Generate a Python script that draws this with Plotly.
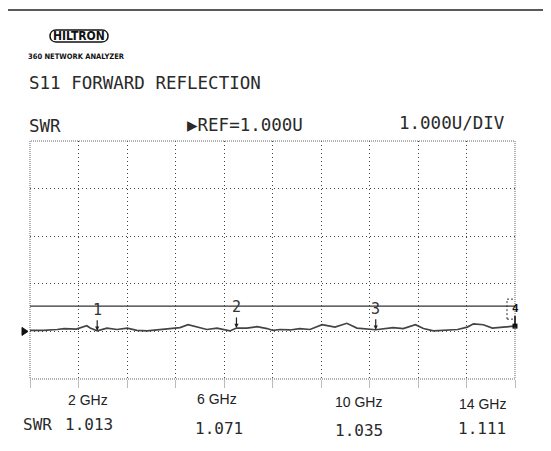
import plotly.graph_objects as go

# ---------------- data ----------------
freq_ghz = [0.07, 0.45, 0.85, 1.05, 1.40, 1.70, 1.80, 2.00, 2.28, 2.57, 2.86, 3.14,
            3.43, 3.80, 4.09, 4.38, 4.61, 4.87, 5.15, 5.44, 5.81, 6.00, 6.30, 6.59,
            6.88, 7.05, 7.25, 7.54, 7.82, 8.11, 8.46, 8.83, 9.17, 9.46, 9.83, 10.00,
            10.50, 10.79, 11.14, 11.37, 11.66, 12.06, 12.35, 12.63, 12.81, 13.09,
            13.35, 13.66, 14.00]
swr = [1.02, 1.02, 1.04, 1.06, 1.05, 1.12, 1.07, 1.013, 1.07, 1.04, 1.07, 1.02,
       1.01, 1.04, 1.07, 1.08, 1.14, 1.09, 1.04, 1.07, 1.01, 1.071, 1.07, 1.10,
       1.06, 1.02, 1.04, 1.03, 1.06, 1.04, 1.14, 1.09, 1.17, 1.07, 1.04, 1.035,
       1.08, 1.06, 1.14, 1.06, 1.01, 1.03, 1.04, 1.09, 1.16, 1.14,
       1.07, 1.09, 1.111]

marker_ids = ["1", "2", "3", "4"]
marker_freq = [2, 6, 10, 14]
marker_swr = [1.013, 1.071, 1.035, 1.111]
freq_labels = ["2 GHz", "6 GHz", "10 GHz", "14 GHz"]
value_labels = ["1.013", "1.071", "1.035", "1.111"]
limit_swr = 1.53
ref_value = 1.0
x_range = [0.07, 14.0]
y_range = [0, 5]

# ---------------- layout helpers ----------------
OFF = 8                      # default page body margin
W, H = 551 - OFF, 451 - OFF  # figure size inside the page
L, R, T, B = 30 - OFF, 515 - OFF, 141 - OFF, 379 - OFF


def px(X, Y):
    """page pixel -> paper coordinates"""
    X -= OFF
    Y -= OFF
    return (X - L) / (R - L), (B - Y) / (B - T)


MONO = "DejaVu Sans Mono"
INK = "#2a2a2a"

fig = go.Figure()

fig.add_trace(go.Scatter(x=x_range, y=[limit_swr, limit_swr], mode="lines",
                         line=dict(color="#333", width=1.3), hoverinfo="skip"))
fig.add_trace(go.Scatter(x=freq_ghz, y=swr, mode="lines",
                         line=dict(color="#444", width=1.7), hoverinfo="skip"))
fig.add_trace(go.Scatter(x=[marker_freq[-1]], y=[marker_swr[-1]], mode="markers",
                         marker=dict(symbol="square", size=5, color="#111"),
                         cliponaxis=False, hoverinfo="skip"))

annotations = []
shapes = []

# markers 1-3 with down arrows
for mid, f, v in zip(marker_ids[:3], marker_freq[:3], marker_swr[:3]):
    annotations.append(dict(x=f, y=v, xref="x", yref="y", text=mid, showarrow=True,
                            ax=0, ay=-21, arrowhead=2, arrowsize=0.7, arrowwidth=1.2,
                            arrowcolor="#222", standoff=0,
                            font=dict(family=MONO, size=15, color="#333")))
# active marker 4
annotations.append(dict(x=marker_freq[3], y=marker_swr[3], xref="x", yref="y",
                        text="<b>" + marker_ids[3] + "</b>", showarrow=True, ax=0, ay=-18,
                        arrowhead=0, arrowwidth=1.6, arrowcolor="#111", standoff=0,
                        font=dict(family=MONO, size=11, color="#111")))
shapes.append(dict(type="rect", xref="x", yref="y", xsizemode="pixel", ysizemode="pixel",
                   xanchor=marker_freq[3], yanchor=marker_swr[3],
                   x0=-8, x1=7, y0=7, y1=27,
                   line=dict(color="#333", width=1, dash="2px,2px")))

# reference triangle at REF level
xa, _ = px(22, 0)
xb, _ = px(28, 0)
d = 4 / 47.6
shapes.append(dict(type="path", xref="paper", yref="y",
                   path=f"M {xa},{ref_value + d} L {xb},{ref_value} L {xa},{ref_value - d} Z",
                   fillcolor="#111", line=dict(color="#111", width=1)))

# plot border (dense dotted)
shapes.append(dict(type="rect", xref="paper", yref="paper", x0=0, x1=1, y0=0, y1=1,
                   line=dict(color="#666", width=1, dash="1px,1px")))

# outer frame lines
x7, y10 = px(7, 10)
x551, y451 = px(551, 451)
shapes.append(dict(type="line", xref="paper", yref="paper", x0=x7, x1=x551, y0=y10, y1=y10,
                   line=dict(color="#222", width=1.5)))
shapes.append(dict(type="line", xref="paper", yref="paper", x0=x7, x1=x7, y0=y10, y1=y451,
                   line=dict(color="#222", width=1.5)))


# HILTRON pill
def P(X, Y):
    a, b = px(X, Y)
    return f"{a},{b}"


pill = (f"M {P(56,30)} L {P(102,30)} C {P(110,30)} {P(110,42)} {P(102,42)} "
        f"L {P(56,42)} C {P(48,42)} {P(48,30)} {P(56,30)} Z")
shapes.append(dict(type="path", xref="paper", yref="paper", path=pill,
                   line=dict(color="#111", width=1.5)))


def text(X, Y, s, size, family=MONO, anchor="left", color=INK):
    a, b = px(X, Y)
    annotations.append(dict(x=a, y=b, xref="paper", yref="paper", text=s, showarrow=False,
                            xanchor=anchor, yanchor="middle", borderpad=0,
                            font=dict(family=family, size=size, color=color)))


NARROW = "Liberation Sans Narrow, DejaVu Sans Condensed"
text(79, 36, "<b>HILTRON</b>", 12, family=NARROW, anchor="center", color="#111")
text(27, 57, "<b>360 NETWORK ANALYZER</b>", 7.5, family="DejaVu Sans Condensed", color="#111")
text(28, 83, "S11 FORWARD REFLECTION", 17.5)
text(28, 126, "SWR", 17.5)
text(186, 125, "▶REF=1.000U", 17.5)
text(398, 123, "1.000U/DIV", 17.5)

# bottom frequency labels and values
label_pos = [(88, 399.5), (217, 398.5), (358, 402), (482, 403.5)]
value_pos = [(89, 424), (219, 428), (359, 430), (482, 428)]
for s, (X, Y) in zip(freq_labels, label_pos):
    text(X, Y, s, 14, family="Liberation Sans", anchor="center", color="#222")
for s, (X, Y) in zip(value_labels, value_pos):
    text(X, Y, s, 16, anchor="center")
text(22, 424.5, "SWR", 16)

n_div = 10
fig.update_layout(
    width=W, height=H,
    margin=dict(l=L, r=W - R, t=T, b=H - B, pad=0),
    paper_bgcolor="white", plot_bgcolor="white",
    showlegend=False,
    annotations=annotations, shapes=shapes,
    xaxis=dict(range=x_range, tick0=x_range[0], dtick=(x_range[1] - x_range[0]) / n_div,
               showgrid=True, gridcolor="#444", gridwidth=1, griddash="1px,3px",
               zeroline=False, showticklabels=False, ticks="outside", ticklen=8,
               tickcolor="#bbb", tickwidth=1, showline=False),
    yaxis=dict(range=y_range, dtick=1, showgrid=True, gridcolor="#444", gridwidth=1,
               griddash="1px,3px", zeroline=False, showticklabels=False, showline=False),
)

fig.write_html("out.html")
